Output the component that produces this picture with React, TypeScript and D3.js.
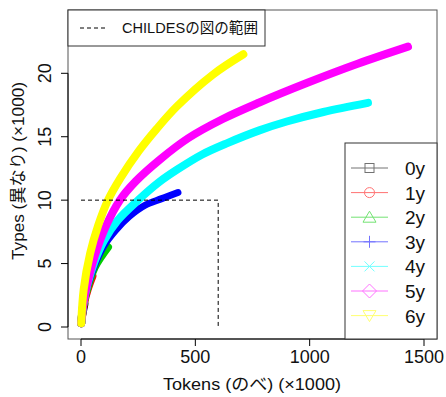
import * as d3 from "d3";

const width = 446;
const height = 397;

const ages = ["0y", "1y", "2y", "3y", "4y", "5y", "6y"];
const colors = ["#000000", "#ff0000", "#00cd00", "#0000ff", "#00ffff", "#ff00ff", "#ffff00"];
const symbols = ["square", "circle", "triangle", "plus", "cross", "diamond", "triangleDown"];

// Tokens / Types (x1000)
const tokens0 = [1, 5, 15];
const types0 = [0.3, 0.9, 1.8];
const tokens1 = [1, 10, 30, 50];
const types1 = [0.3, 1.6, 3.0, 4.0];
const tokens2 = [1, 10, 30, 60, 90, 118];
const types2 = [0.3, 1.7, 3.2, 4.7, 5.6, 6.3];
const tokens3 = [1, 10, 30, 60, 100, 150, 210, 280, 350, 424];
const types3 = [0.3, 1.8, 3.3, 4.9, 6.4, 7.6, 8.7, 9.6, 10.1, 10.6];
const tokens4 = [1, 10, 30, 60, 100, 160, 250, 340, 420, 530, 640, 780, 900, 1060, 1255];
const types4 = [0.3, 1.8, 3.5, 5.2, 6.8, 8.4, 10.0, 11.4, 12.4, 13.6, 14.5, 15.5, 16.2, 16.95, 17.67];
const tokens5 = [1, 10, 30, 60, 105, 170, 240, 345, 470, 620, 780, 990, 1210, 1430];
const types5 = [0.3, 1.8, 3.6, 5.6, 7.8, 10.0, 11.5, 13.2, 14.9, 16.4, 17.7, 19.25, 20.75, 22.1];
const tokens6 = [1, 12, 40, 75, 118, 171, 254, 330, 420, 577, 710];
const types6 = [0.3, 3.0, 5.8, 8.0, 10.0, 11.7, 13.9, 15.6, 17.4, 19.9, 21.5];

const allTokens = [tokens0, tokens1, tokens2, tokens3, tokens4, tokens5, tokens6];
const allTypes = [types0, types1, types2, types3, types4, types5, types6];

// CHILDES range box
const childesX = [0, 600, 600];
const childesY = [10, 10, 0];

const xTicks = [0, 500, 1000, 1500];
const yTicks = [0, 5, 10, 15, 20];

const font = "'Liberation Sans', Arial, 'Noto Sans CJK JP', sans-serif";

export default function App() {
  const x = d3.scaleLinear().domain([0, 1500]).range([81, 424]);
  const y = d3.scaleLinear().domain([0, 20]).range([327, 73.3]);
  const box = { l: 68, t: 10, r: 437, b: 339 };

  const line = d3
    .line<[number, number]>()
    .x((d) => x(d[0]))
    .y((d) => y(d[1]))
    .curve(d3.curveCatmullRom.alpha(0.5));

  const childes = d3.line<[number, number]>().x((d) => x(d[0])).y((d) => y(d[1]));

  const sym = (s: string, cx: number, cy: number, c: string) => {
    const common = { fill: "none", stroke: c, strokeWidth: 1 };
    switch (s) {
      case "square":
        return <rect x={cx - 4.5} y={cy - 4.5} width={9} height={9} {...common} />;
      case "circle":
        return <circle cx={cx} cy={cy} r={5} {...common} />;
      case "triangle":
        return <path d={`M${cx},${cy - 6}L${cx + 6.5},${cy + 5}L${cx - 6.5},${cy + 5}Z`} {...common} />;
      case "plus":
        return <path d={`M${cx - 6},${cy}H${cx + 6}M${cx},${cy - 6}V${cy + 6}`} {...common} />;
      case "cross":
        return <path d={`M${cx - 5},${cy - 5}L${cx + 5},${cy + 5}M${cx - 5},${cy + 5}L${cx + 5},${cy - 5}`} {...common} />;
      case "diamond":
        return <path d={`M${cx},${cy - 7}L${cx + 7},${cy}L${cx},${cy + 7}L${cx - 7},${cy}Z`} {...common} />;
      default:
        return <path d={`M${cx},${cy + 6}L${cx + 6.5},${cy - 5}L${cx - 6.5},${cy - 5}Z`} {...common} />;
    }
  };

  return (
    <svg
      width={width}
      height={height}
      style={{ position: "absolute", left: 0, top: 0, background: "#fff" }}
      fontFamily={font}
    >
      {/* curves */}
      {ages.map((a, i) => (
        <path
          key={a}
          d={line(allTokens[i].map((t, j) => [t, allTypes[i][j]]) as [number, number][]) || ""}
          fill="none"
          stroke={colors[i]}
          strokeWidth={i === 3 ? 7 : 8}
          strokeLinecap="round"
          strokeLinejoin="round"
        />
      ))}

      {/* CHILDES range */}
      <path
        d={childes(childesX.map((v, i) => [v, childesY[i]]) as [number, number][]) || ""}
        fill="none"
        stroke="#000"
        strokeWidth={1}
        strokeDasharray="4,3"
      />

      {/* plot box */}
      <rect x={box.l} y={box.t} width={box.r - box.l} height={box.b - box.t} fill="none" stroke="#555" />

      {/* x axis */}
      <line x1={x(0)} x2={x(1500)} y1={box.b} y2={box.b} stroke="#000" />
      {xTicks.map((t) => (
        <g key={t}>
          <line x1={x(t)} x2={x(t)} y1={box.b} y2={box.b + 7} stroke="#000" />
          <text x={x(t)} y={box.b + 24} textAnchor="middle" fontSize={18} fill="#111">
            {t}
          </text>
        </g>
      ))}
      <text x={252} y={390} textAnchor="middle" fontSize={16.5} fill="#111" textLength={178} lengthAdjust="spacingAndGlyphs">
        Tokens (のべ) (×1000)
      </text>

      {/* y axis */}
      <line x1={box.l} x2={box.l} y1={y(0)} y2={y(20)} stroke="#000" />
      {yTicks.map((t) => (
        <g key={t}>
          <line x1={box.l - 7} x2={box.l} y1={y(t)} y2={y(t)} stroke="#000" />
          <text
            transform={`translate(${box.l - 17},${y(t)}) rotate(-90)`}
            textAnchor="middle"
            fontSize={18}
            fill="#111"
          >
            {t}
          </text>
        </g>
      ))}
      <text
        transform={`translate(24,171) rotate(-90)`}
        textAnchor="middle"
        fontSize={16.5}
        fill="#111"
        textLength={178}
        lengthAdjust="spacingAndGlyphs"
      >
        Types (異なり) (×1000)
      </text>

      {/* top-left legend */}
      <rect x={box.l} y={box.t} width={197} height={36} fill="#fff" stroke="#333" />
      <line x1={80} x2={108} y1={28} y2={28} stroke="#000" strokeDasharray="4,3" />
      <text x={122} y={33} fontSize={15} fill="#111" textLength={136} lengthAdjust="spacingAndGlyphs">
        CHILDESの図の範囲
      </text>

      {/* age legend */}
      <rect x={345} y={143} width={box.r - 345} height={box.b - 143} fill="#fff" stroke="#333" />
      {ages.map((a, i) => {
        const ly = 168 + i * 24.6;
        return (
          <g key={a}>
            <g opacity={0.55}>
              <line x1={351} x2={388} y1={ly} y2={ly} stroke={colors[i]} />
              {sym(symbols[i], 369.5, ly, colors[i])}
            </g>
            <text x={405} y={ly + 7} fontSize={19} fill="#111">
              {a}
            </text>
          </g>
        );
      })}
    </svg>
  );
}
